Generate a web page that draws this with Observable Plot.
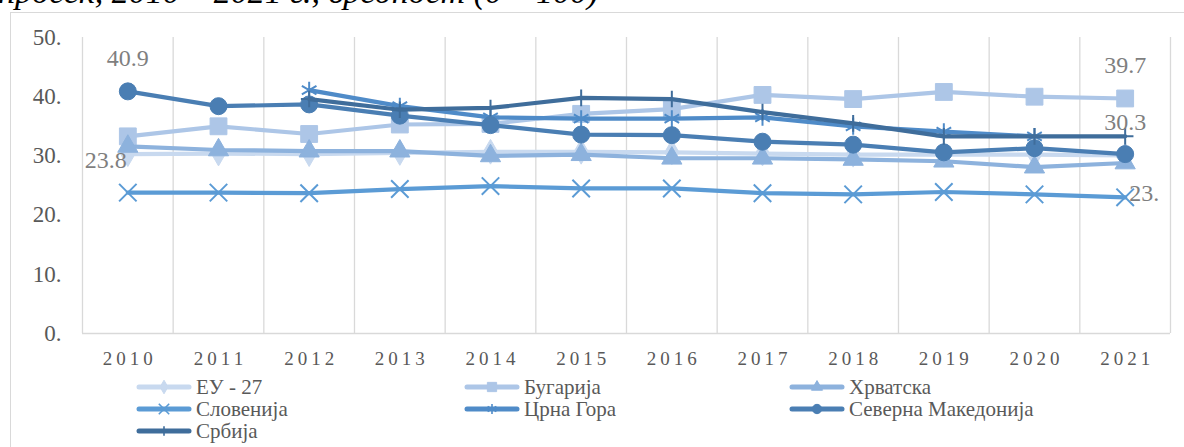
<!DOCTYPE html>
<html>
<head>
<meta charset="utf-8">
<script src="https://cdn.jsdelivr.net/npm/d3@7"></script>
<script src="https://cdn.jsdelivr.net/npm/@observablehq/plot@0.6"></script>
<style>
  html, body { margin: 0; padding: 0; background: #fff; }
  body { width: 1184px; height: 447px; overflow: hidden; position: relative;
         font-family: "Liberation Serif", "Times New Roman", serif; }
  #title { position: absolute; left: -2px; top: -25px; font-style: italic; font-size: 34px;
           line-height: 34px; white-space: nowrap; color: #000; }
  #frame { position: absolute; left: 10px; top: 12px; width: 1200px; height: 500px;
           border: 1px solid #d9d9d9; box-sizing: border-box; }
  #chart { position: absolute; left: 0; top: 0; }
  #chart svg, #chart text { font-family: "Liberation Serif", "Times New Roman", serif; }
  #chart g[aria-label="x-axis tick label"] { letter-spacing: 4px; }
  .lg { position: absolute; display: flex; align-items: center; font-size: 21px; color: #595959;
        white-space: nowrap; height: 22px; font-family: "Liberation Serif", "Times New Roman", serif; }
  .lg svg { margin-right: 4px; }
</style>
</head>
<body>
<div id="title">просек, 2010 – 2021 г., вредност (0 – 100)</div>
<div id="frame"></div>
<div id="chart"></div>
<div id="legend"></div>
<script>
// ---- data ----
const years = [2010, 2011, 2012, 2013, 2014, 2015, 2016, 2017, 2018, 2019, 2020, 2021];
const eu27      = [30.3, 30.4, 30.3, 30.5, 30.7, 30.7, 30.6, 30.4, 30.2, 30.2, 30.2, 30.1];
const bulgaria  = [33.3, 35.0, 33.7, 35.3, 35.4, 37.1, 37.9, 40.3, 39.6, 40.8, 40.0, 39.7];
const croatia   = [31.6, 31.0, 30.8, 30.8, 30.0, 30.2, 29.6, 29.6, 29.4, 29.1, 28.1, 28.8];
const slovenia  = [23.8, 23.8, 23.7, 24.4, 24.9, 24.5, 24.5, 23.7, 23.5, 23.9, 23.5, 23.0];
const montenegro= [null, null, 41.1, 38.4, 36.5, 36.3, 36.3, 36.5, 35.0, 34.1, 33.3, null];
const nmacedonia= [40.9, 38.4, 38.7, 36.8, 35.2, 33.6, 33.5, 32.4, 31.9, 30.6, 31.3, 30.3];
const serbia    = [null, null, 39.6, 37.8, 38.1, 39.8, 39.6, 37.4, 35.5, 33.3, 33.3, 33.3];
const seriesNames = ["ЕУ - 27", "Бугарија", "Хрватска", "Словенија", "Црна Гора", "Северна Македонија", "Србија"];
const seriesValues = [eu27, bulgaria, croatia, slovenia, montenegro, nmacedonia, serbia];
const yTicks = [0, 10, 20, 30, 40, 50];

// ---- styles ----
const styles = [
  {color: "#c8d9ef", symbol: "diamond",  r: 7.5, filled: true},
  {color: "#adc6e7", symbol: "square",   r: 9.5, filled: true},
  {color: "#8db2dd", symbol: "triangle", r: 7.5, filled: true},
  {color: "#5b9bd5", symbol: "times",    r: 8,   filled: false},
  {color: "#4f8bc8", symbol: "asterisk", r: 8,   filled: false},
  {color: "#4a7eb3", symbol: "circle",   r: 8.5, filled: true},
  {color: "#3f6d9b", symbol: "plus",     r: 5.4, filled: false}
];
// data labels: [series index, year index, dx, dy, anchor]
const labelSpecs = [
  [5, 0, 0, -33, "middle"],
  [3, 0, -22, -32, "middle"],
  [1, 11, 0, -33, "middle"],
  [5, 11, 0, -32, "middle"],
  [3, 11, 4, -4, "start"]
];
const fmt = v => (Math.round(v * 10) % 10 === 0 ? Math.round(v) + "." : v.toFixed(1));

const rowsFor = i => years.map((yr, j) => ({year: yr, value: seriesValues[i][j], name: seriesNames[i]}))
                          .filter(d => d.value != null);

const marks = [
  Plot.ruleX(years.map(y => y - 0.5).concat([years[years.length - 1] + 0.5]), {stroke: "#d9d9d9", strokeWidth: 1.3}),
  Plot.ruleY([0], {stroke: "#d9d9d9", strokeWidth: 1.3}),
  Plot.axisX({ticks: years, tickFormat: d => String(d), tickSize: 0, tickPadding: 18, fontSize: 19, color: "#595959", dx: 2, label: null}),
  Plot.axisY({ticks: yTicks, tickFormat: d => d + ".", tickSize: 0, tickPadding: 21, fontSize: 23, color: "#595959", label: null})
];
seriesNames.forEach((n, i) => {
  const st = styles[i];
  const data = rowsFor(i);
  marks.push(Plot.line(data, {x: "year", y: "value", stroke: st.color, strokeWidth: 4.2, strokeLinejoin: "round", strokeLinecap: "round"}));
  marks.push(Plot.dot(data, st.filled
    ? {x: "year", y: "value", symbol: () => st.symbol, r: st.r, fill: st.color, stroke: st.color, strokeWidth: 1}
    : {x: "year", y: "value", symbol: () => st.symbol, r: st.r, fill: "none", stroke: st.color, strokeWidth: 2}));
});
labelSpecs.forEach(([si, yi, dx, dy, anchor]) => {
  marks.push(Plot.text([{year: years[yi], value: seriesValues[si][yi]}], {
    x: "year", y: "value", text: d => fmt(d.value), dx, dy, textAnchor: anchor,
    fill: "#7f7f7f", fontSize: 24, lineAnchor: "middle"
  }));
});

const chart = Plot.plot({
  width: 1184, height: 372,
  marginLeft: 82, marginRight: 14, marginTop: 37, marginBottom: 39,
  x: {type: "linear", domain: [years[0] - 0.5, years[years.length - 1] + 0.5], axis: null},
  y: {domain: [0, 50], axis: null},
  symbol: {type: "identity"},
  style: {fontFamily: "'Liberation Serif', 'Times New Roman', serif", background: "transparent", overflow: "visible"},
  marks
});
document.getElementById("chart").appendChild(chart);

// ---- legend ----
const colX = [136, 464, 789];
const rowY = [387, 409, 431];
const legend = document.getElementById("legend");
const sym = (s, size) => {
  const area = Math.PI * size * size;
  const map = {diamond: d3.symbolDiamond, square: d3.symbolSquare, triangle: d3.symbolTriangle, times: d3.symbolTimes,
               asterisk: d3.symbolAsterisk, circle: d3.symbolCircle, plus: d3.symbolPlus};
  return d3.symbol(map[s], area)();
};
seriesNames.forEach((n, i) => {
  const st = styles[i];
  const col = i % 3, row = Math.floor(i / 3);
  const div = document.createElement("div");
  div.className = "lg";
  div.style.left = colX[col] + "px";
  div.style.top = (rowY[row] - 11) + "px";
  const scale = st.filled ? 0.55 : 0.6;
  div.innerHTML = `<svg width="56" height="22"><line x1="3" x2="53" y1="11" y2="11" stroke="${st.color}" stroke-width="5" stroke-linecap="round"/>` +
    `<path transform="translate(28,11)" d="${sym(st.symbol, st.r * scale)}" fill="${st.filled ? st.color : "none"}" stroke="${st.color}" stroke-width="${st.filled ? 1 : 1.6}"/></svg>` +
    `<span>${n}</span>`;
  legend.appendChild(div);
});
</script>
</body>
</html>
